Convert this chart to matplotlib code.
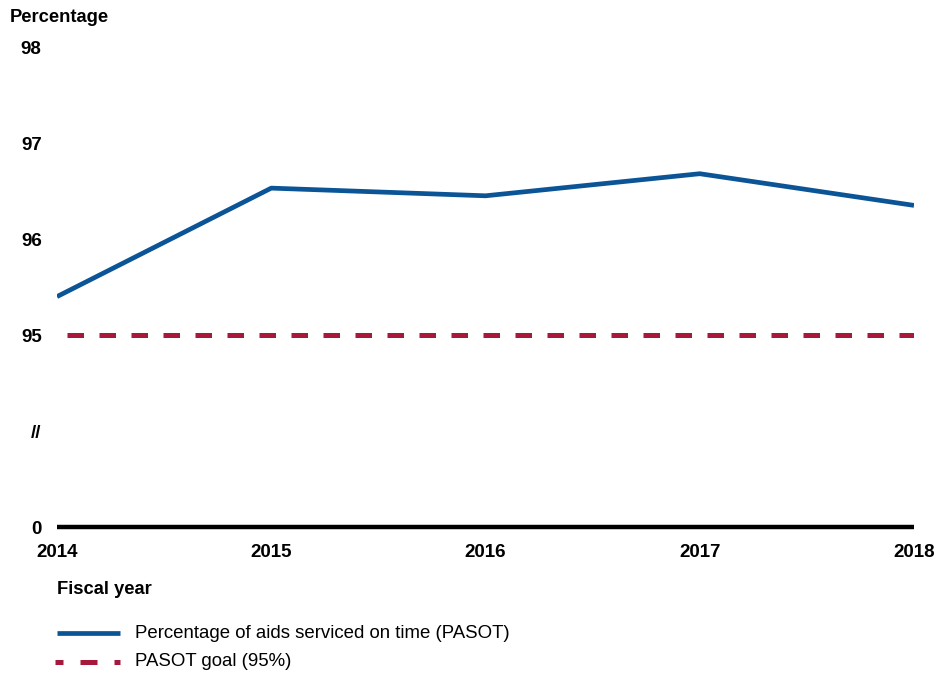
import matplotlib
matplotlib.use("Agg")
import matplotlib.pyplot as plt
from matplotlib.lines import Line2D

years = [2014, 2015, 2016, 2017, 2018]
pasot = [95.40, 96.53, 96.45, 96.68, 96.35]
goal = [95, 95, 95, 95, 95]
ytick_vals = [93, 94, 95, 96, 97, 98]
ytick_labels = ["0", "//", "95", "96", "97", "98"]

plt.rcParams['font.family'] = ['Liberation Sans', 'DejaVu Sans']

BLUE = '#0B5597'
RED = '#A6193C'

fig = plt.figure(figsize=(9.51, 6.73), dpi=100)
ax = fig.add_axes([57/951, 1-527/673, 857/951, 480/673])

ax.plot(years, pasot, color=BLUE, lw=3.4, solid_capstyle='butt', zorder=3)
ax.plot(years, goal, color=RED, lw=3.6, linestyle=(4.4, (3.3, 3.1)), zorder=2)

ax.set_xlim(2014, 2018)
ax.set_ylim(93, 98)
ax.set_xticks(years)
ax.set_xticklabels([str(y) for y in years], fontsize=13.5, fontweight='bold')
ax.set_yticks(ytick_vals)
ax.set_yticklabels(ytick_labels, fontsize=13.5, fontweight='bold')
ax.tick_params(axis='both', length=0)
ax.tick_params(axis='y', pad=11)
ax.tick_params(axis='x', pad=12)

for s in ['top', 'right', 'left']:
    ax.spines[s].set_visible(False)
ax.spines['bottom'].set_linewidth(3.2)
ax.spines['bottom'].set_color('black')
ax.spines['bottom'].set_capstyle('butt')

fig.text(10/951, 1-17/673, "Percentage", fontsize=13.2, fontweight='bold', va='center', ha='left')
fig.text(57/951, 1-589/673, "Fiscal year", fontsize=13.2, fontweight='bold', va='center', ha='left')

# legend
fig.add_artist(Line2D([57/951, 120/951], [1-633/673, 1-633/673], color=BLUE, lw=3.4,
                      solid_capstyle='butt', transform=fig.transFigure))
fig.add_artist(Line2D([55/951, 120/951], [1-662/673, 1-662/673], color=RED, lw=3.6,
                      linestyle=(1.8, (3.4, 3.4)), transform=fig.transFigure))
fig.text(135/951, 1-633/673, "Percentage of aids serviced on time (PASOT)", fontsize=13.4,
         va='center', ha='left')
fig.text(135/951, 1-662/673, "PASOT goal (95%)", fontsize=13.4, va='center', ha='left')

fig.savefig("out.png", dpi=100)
